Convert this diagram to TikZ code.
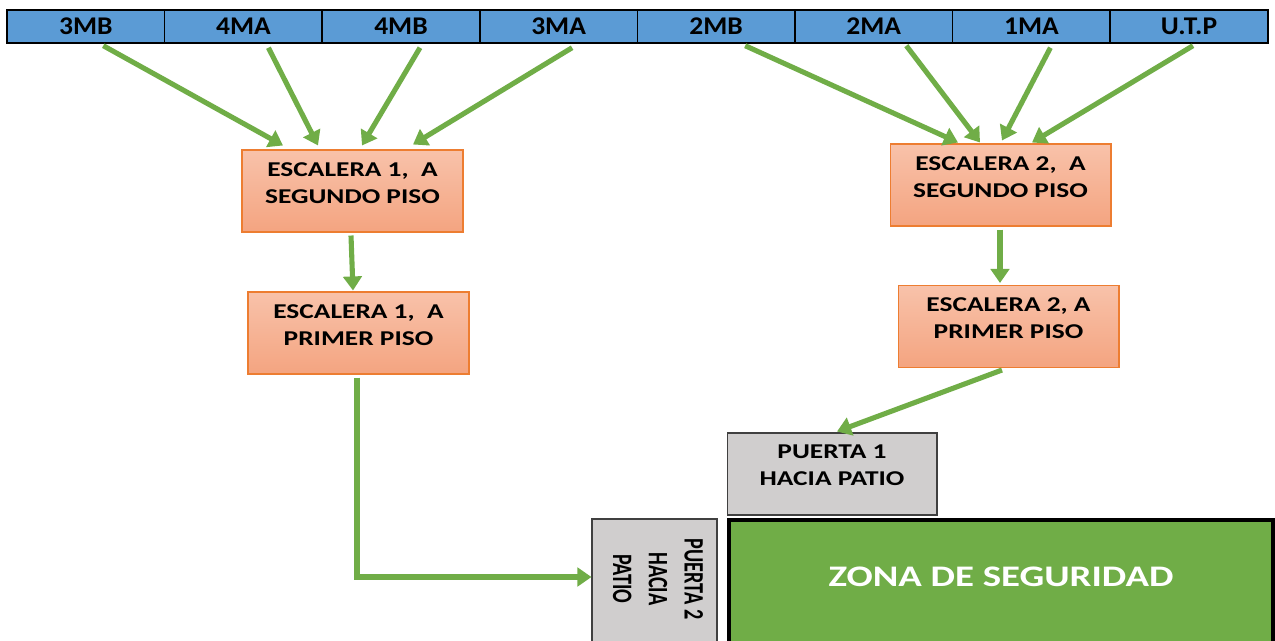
\documentclass[tikz,border=0pt]{standalone}
\usepackage{fontspec}
\setmainfont{Carlito}
\newfontfamily\barfont{Carlito}[FakeStretch=1.08]
\newfontfamily\boxfont{Carlito}[FakeStretch=1.3]
\newfontfamily\sidefont{Carlito}[FakeStretch=0.72]
\usetikzlibrary{arrows.meta}
\usetikzlibrary{calc}
\definecolor{barblue}{HTML}{5B9BD5}
\definecolor{arrowgreen}{HTML}{70AD47}
\definecolor{boxorange}{HTML}{ED7D31}
\definecolor{salmontop}{RGB}{248,194,170}
\definecolor{salmonbot}{RGB}{244,164,128}
\definecolor{doorgray}{HTML}{D0CECE}
\definecolor{doorline}{HTML}{404040}

\begin{document}
\begin{tikzpicture}[x=0.02cm, y=-0.02cm,
	cell/.style={draw=black, line width=0.8pt, fill=barblue, minimum width=3.152cm, minimum height=0.66cm, inner sep=0pt, font=\barfont\fontsize{14.5}{16}\selectfont\bfseries},
	stairbox/.style={draw=boxorange, line width=0.6pt, top color=salmontop, bottom color=salmonbot, minimum width=4.42cm, minimum height=1.64cm},
	doorbox/.style={draw=doorline, line width=0.6pt, fill=doorgray},
	boxtext/.style={align=center, inner sep=0pt, font=\boxfont\fontsize{12}{15.5}\selectfont\bfseries},
	flow/.style={draw=arrowgreen, line width=2.9pt, -{Triangle[length=8pt,width=10.5pt]}}]
			\clip (0,0) rectangle (1275,640);
			\node[cell] (c3mb) at (85.8,26.5) {3MB};
			\node[cell] (c4ma) at (243.4,26.5) {4MA};
			\node[cell] (c4mb) at (401,26.5) {4MB};
			\node[cell] (c3ma) at (558.6,26.5) {3MA};
			\node[cell] (c2mb) at (716.2,26.5) {2MB};
			\node[cell] (c2ma) at (873.8,26.5) {2MA};
			\node[cell] (c1ma) at (1031.4,26.5) {1MA};
			\node[cell] (cutp) at (1189,26.5) {U.T.P};
			\node[stairbox] (e1s) at (352.5,191) {};
			\node[boxtext] (e1s-t) at (352.5,183) {ESCALERA 1,~ A\\SEGUNDO PISO};
			\node[stairbox] (e1p) at (358.5,333) {};
			\node[boxtext] (e1p-t) at (358.5,325) {ESCALERA 1,~ A\\PRIMER PISO};
			\node[stairbox] (e2s) at (1000.5,185) {};
			\node[boxtext] (e2s-t) at (1000.5,177) {ESCALERA 2,~ A\\SEGUNDO PISO};
			\node[stairbox] (e2p) at (1008.5,326.5) {};
			\node[boxtext] (e2p-t) at (1008.5,318.5) {ESCALERA 2, A\\PRIMER PISO};
			\node[doorbox, minimum width=4.2cm, minimum height=1.64cm] (p1) at (832,474) {};
			\node[boxtext] (p1-t) at (832,465) {PUERTA 1\\HACIA PATIO};
			\node[doorbox, minimum width=2.5cm, minimum height=3.22cm] (p2) at (654.5,599.5) {};
			\node[rotate=-90, align=center, inner sep=0pt, font=\sidefont\fontsize{16}{20.4}\selectfont\bfseries] (p2-t) at (658,579) {PUERTA 2\\HACIA\\PATIO};
			\node[draw=black, line width=2.3pt, fill=arrowgreen, minimum width=10.88cm, minimum height=3.6cm] (zona) at (1001,610) {};
			\node[text=white, inner sep=0pt, font=\boxfont\fontsize{17}{20}\selectfont\bfseries] (zona-t) at (1001,576.5) {ZONA DE SEGURIDAD};
			\draw[flow] ($(c3mb.south)+(17.5,2)$) -- ($(e1s.north)+(-69.5,-4)$);
			\draw[flow] ($(c4ma.south)+(25,4)$) -- ($(e1s.north)+(-34.5,-4)$);
			\draw[flow] ($(c4mb.south)+(19,4)$) -- ($(e1s.north)+(9.5,-4)$);
			\draw[flow] ($(c3ma.south)+(13.5,4)$) -- ($(e1s.north)+(60.5,-5)$);
			\draw[flow] ($(c2mb.south)+(29,2)$) -- ($(e2s.north)+(-42.5,-1)$);
			\draw[flow] ($(c2ma.south)+(32.5,2)$) -- ($(e2s.north)+(-20.5,-1)$);
			\draw[flow] ($(c1ma.south)+(19,4)$) -- ($(e2s.north)+(1.5,-3)$);
			\draw[flow] ($(cutp.south)+(4,2)$) -- ($(e2s.north)+(31.5,-1)$);
			\draw[flow] ($(e1s.south)+(-1.5,3)$) -- ($(e1p.north)+(-5.5,-1)$);
			\draw[flow] ($(e2s.south)+(-0.5,3)$) -- ($(e2p.north)+(-8.5,-2)$);
			\draw[flow] ($(e2p.south)+(-6.5,2)$) -- ($(p1.north)+(5,-1)$);
			\draw[flow] ($(e1p.south)+(-1.5,3)$) |- ($(p2.west)+(0,-22.5)$);
	\end{tikzpicture}
\end{document}
